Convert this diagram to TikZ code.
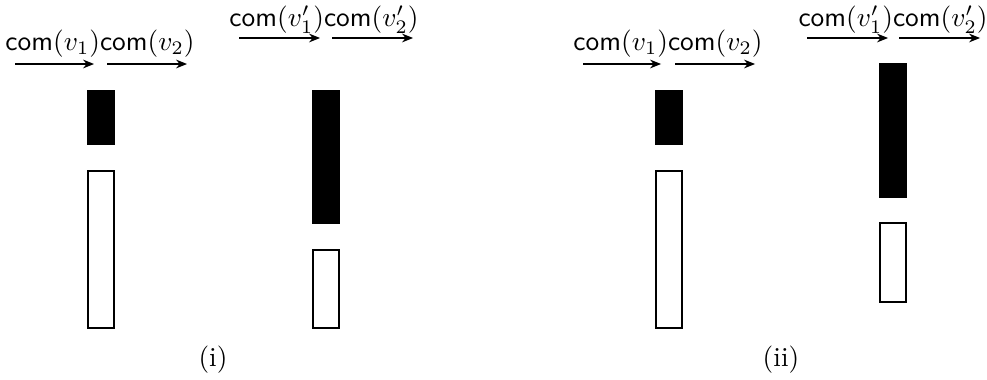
\documentclass[tikz,border=0pt]{standalone}
\usetikzlibrary{arrows.meta}
\begin{document}
\begin{tikzpicture}[x=0.365pt,y=-0.365pt,
  lbl/.style={inner sep=0pt,anchor=center},
  mv/.style={-{Stealth[length=4pt,width=3.2pt]},line width=0.45pt},
  fullbar/.style={fill=black,draw=black,line width=0.4pt},
  emptybar/.style={fill=white,draw=black,line width=0.4pt}]
\useasboundingbox (0,0) rectangle (987,379);

% ---- panel (i), left column
\node[lbl] (ta) at (100,44) {$\mathsf{com}(v_1)\mathsf{com}(v_2)$};
\coordinate (a1s) at (15,64);  \coordinate (a1e) at (94,64);
\coordinate (a2s) at (107,64); \coordinate (a2e) at (187,64);
\draw[mv] (a1s) -- (a1e);
\draw[mv] (a2s) -- (a2e);
\draw[fullbar]  (88,91)  rectangle (114,144);
\draw[emptybar] (88,171) rectangle (114,328);

% ---- panel (i), right column
\node[lbl] (tb) at (324,20) {$\mathsf{com}(v'_1)\mathsf{com}(v'_2)$};
\coordinate (b1s) at (239,38); \coordinate (b1e) at (320,38);
\coordinate (b2s) at (332,38); \coordinate (b2e) at (413,38);
\draw[mv] (b1s) -- (b1e);
\draw[mv] (b2s) -- (b2e);
\draw[fullbar]  (313,91)  rectangle (339,223);
\draw[emptybar] (313,250) rectangle (339,328);

\node[lbl] (capi) at (213,360) {(i)};

% ---- panel (ii), left column
\node[lbl] (tc) at (668,44) {$\mathsf{com}(v_1)\mathsf{com}(v_2)$};
\coordinate (c1s) at (583,64); \coordinate (c1e) at (661,64);
\coordinate (c2s) at (675,64); \coordinate (c2e) at (755,64);
\draw[mv] (c1s) -- (c1e);
\draw[mv] (c2s) -- (c2e);
\draw[fullbar]  (656,91)  rectangle (682,144);
\draw[emptybar] (656,171) rectangle (682,328);

% ---- panel (ii), right column
\node[lbl] (td) at (893,20) {$\mathsf{com}(v'_1)\mathsf{com}(v'_2)$};
\coordinate (d1s) at (807,38); \coordinate (d1e) at (888,38);
\coordinate (d2s) at (899,38); \coordinate (d2e) at (980,38);
\draw[mv] (d1s) -- (d1e);
\draw[mv] (d2s) -- (d2e);
\draw[fullbar]  (880,64)  rectangle (906,197);
\draw[emptybar] (880,223) rectangle (906,302);

\node[lbl] (capii) at (781,360) {(ii)};
\end{tikzpicture}
\end{document}
